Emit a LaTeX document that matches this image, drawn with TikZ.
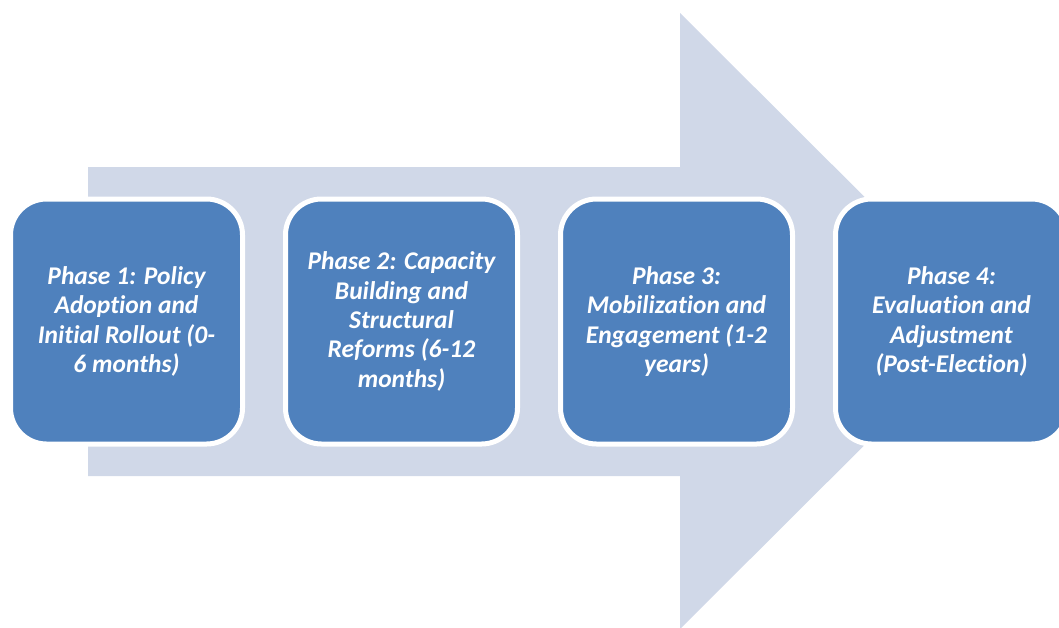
\documentclass[tikz,border=0pt]{standalone}
\usepackage{fontspec}
\setmainfont[Ligatures=NoCommon]{Carlito}
\begin{document}
\begin{tikzpicture}[x=1pt,y=-1pt,
  phasebox/.style={draw=white, line width=5pt, fill=boxblue, rounded corners=36pt,
    minimum width=232pt, minimum height=245pt, align=center,
    inner sep=0pt, text=white, font=\fontsize{25.5}{29.3}\selectfont\bfseries\itshape}]
\definecolor{boxblue}{HTML}{4F81BD}
\definecolor{arrowfill}{HTML}{D0D8E8}
\useasboundingbox (0,0) rectangle (1059,627);
% large background arrow
\fill[arrowfill] (88,167) -- (680,167) -- (680,13) -- (989,321) -- (680,629) -- (680,476) -- (88,476) -- cycle;
% phase boxes
\node[phasebox] (p1) at (126.5,321.5) {Phase 1: Policy\\Adoption and\\Initial Rollout (0-\\6 months)};
\node[phasebox] (p2) at (401.5,321.5) {Phase 2: Capacity\\Building and\\Structural\\Reforms (6-12\\months)};
\node[phasebox] (p3) at (676.5,321.5) {Phase 3:\\Mobilization and\\Engagement (1-2\\years)};
\node[phasebox] (p4) at (951.5,321.5) {Phase 4:\\Evaluation and\\Adjustment\\(Post-Election)};
\end{tikzpicture}
\end{document}
